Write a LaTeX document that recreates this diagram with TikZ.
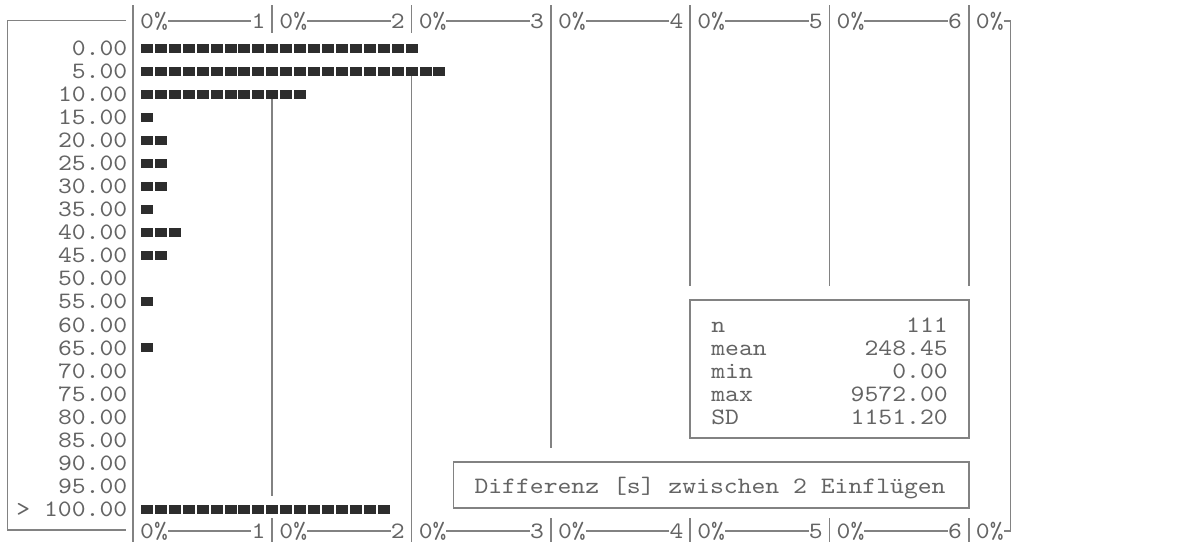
\documentclass[tikz,border=0pt]{standalone}
\usepackage{fontspec}
\newfontfamily\mono[FakeStretch=1.123]{lmmono10-regular.otf}
\definecolor{txtc}{RGB}{100,100,100}
\definecolor{linec}{RGB}{130,130,130}
\definecolor{barc}{RGB}{45,45,45}
\tikzset{
  mtext/.style={font=\mono\fontsize{23.5}{27}\selectfont, text=txtc, inner sep=0pt},
  rule/.style={draw=linec, line width=1.7pt},
  sq/.style={fill=barc},
}
\begin{document}
\begin{tikzpicture}[x=1pt,y=-1pt]
\useasboundingbox[fill=white] (0,0) rectangle (1183,542);

% left frame
\coordinate (lf1) at (126,20.5);
\coordinate (lf2) at (7.6,20.5);
\coordinate (lf3) at (7.6,530);
\coordinate (lf4) at (126,530);
\draw[rule] (lf1) -- (lf2) -- (lf3) -- (lf4);

% right frame
\coordinate (rf1) at (1003.6,21);
\coordinate (rf2) at (1010.6,21);
\coordinate (rf3) at (1010.6,531);
\coordinate (rf4) at (1003.6,531);
\draw[rule] (rf1) -- (rf2) -- (rf3) -- (rf4);

% dividers
\draw[rule] (133,5) -- (133,542);
\draw[rule] (272.3,5) -- (272.3,33);
\draw[rule] (272.3,99) -- (272.3,496);
\draw[rule] (272.3,518) -- (272.3,542);
\draw[rule] (411.6,5) -- (411.6,33);
\draw[rule] (411.6,76) -- (411.6,542);
\draw[rule] (550.9,5) -- (550.9,448);
\draw[rule] (550.9,518) -- (550.9,542);
\foreach \d in {690.2,829.5,968.8} {
  \draw[rule] (\d,5) -- (\d,286);
  \draw[rule] (\d,518) -- (\d,542);
}

% axes (top and bottom)
\foreach \k in {0,...,6} {
  \pgfmathsetmacro\d{133+139.3*\k}
  \node[mtext, anchor=base west] (top0\k) at (\d+6.97,28.2) {0\%};
  \node[mtext, anchor=base west] (bot0\k) at (\d+6.97,538.2) {0\%};
}
\foreach \k in {0,...,5} {
  \pgfmathsetmacro\d{133+139.3*\k}
  \pgfmathtruncatemacro\n{\k+1}
  \node[mtext, anchor=base west] (topn\k) at (\d+118.4,28.2) {\n};
  \node[mtext, anchor=base west] (botn\k) at (\d+118.4,538.2) {\n};
  \draw[rule] (\d+34.8,21) -- (\d+118.4,21);
  \draw[rule] (\d+34.8,531) -- (\d+118.4,531);
}

% row labels
\foreach \t [count=\i from 0] in {0.00,5.00,10.00,15.00,20.00,25.00,30.00,35.00,40.00,45.00,50.00,55.00,60.00,65.00,70.00,75.00,80.00,85.00,90.00,95.00,> 100.00} {
  \node[mtext, anchor=base east] (lab\i) at (127.5,48+23.07*\i+7.2) {\t};
}

% bars
\foreach \i/\n in {0/20,1/22,2/12,3/1,4/2,5/2,6/2,7/1,8/3,9/2,11/1,13/1,20/18} {
  \foreach \j in {1,...,\n} {
    \fill[sq] (133+13.93*\j-6,48+23.07*\i-4.5) rectangle ++(12,9);
  }
}

% statistics box
\draw[rule] (690.2,300) rectangle (968.8,438);
\foreach \l/\v [count=\r from 0] in {n/111,mean/248.45,min/0.00,max/9572.00,SD/1151.20} {
  \node[mtext, anchor=base west] (sl\r) at (711.1,325+23.07*\r+7.2) {\l};
  \node[mtext, anchor=base east] (sv\r) at (947.9,325+23.07*\r+7.2) {\v};
}

% title box
\draw[rule] (453.4,462) rectangle (968.8,508);
\node[mtext, anchor=base west] (title) at (474.3,493.5) {Differenz [s] zwischen 2 Einflügen};

\end{tikzpicture}
\end{document}
